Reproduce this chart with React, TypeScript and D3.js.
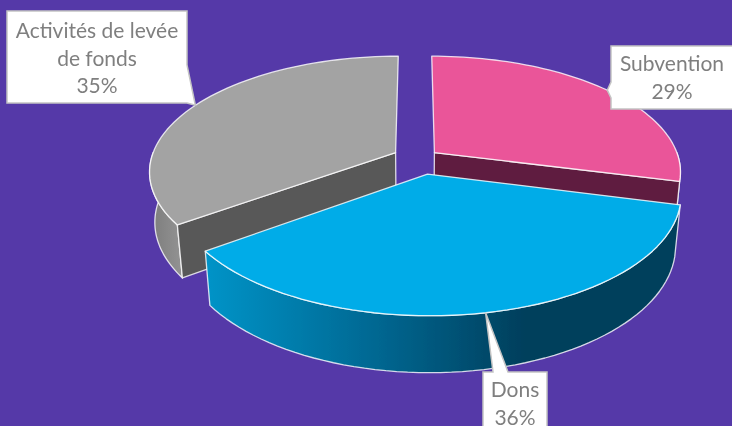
import React from 'react';
import * as d3 from 'd3';

const categories = ['Subvention', 'Dons', 'Activités de levée de fonds'];
const shares = [29, 36, 35];
const labelLines = [['Subvention'], ['Dons'], ['Activités de levée', 'de fonds']];

const topColors = ['#ea5499', '#00ace8', '#a3a3a3'];
const cutColors = ['#5f1f3f', '#004060', '#585858'];

// per slice layout (explosion in plane units, label box in px)
const offsets = [
  { a: 0.08, b: 0.066 },
  { a: 0.05, b: -0.121 },
  { a: -0.08, b: 0.066 },
];
const boxes = [
  { x: 611, y: 46, w: 122, h: 63, tail: 'left', t0: 82, t1: 98 },
  { x: 483, y: 372, w: 64, h: 70, tail: 'top', t0: 493, t1: 508 },
  { x: 7, y: 11, w: 180, h: 92, tail: 'right', t0: 65, t1: 103 },
];

const W = 732;
const H = 426;
const cx = 415;
const cy = 160;
const rx = 245;
const ry = 114;
const persp = 0.16;
const depth = 51;

type Slice = d3.PieArcDatum<number>;

const slices: Slice[] = d3.pie<number>().sort(null)(shares);

const project = (i: number, angle: number, radius: number, down: number): [number, number] => {
  const { a, b } = offsets[i];
  const X = a + radius * Math.sin(angle);
  const Y = b + radius * Math.cos(angle);
  const w = 1 / (1 + persp * Y + (down ? 0.02 : 0));
  return [cx + rx * X * w, cy + (-ry * Y + down * depth) * w];
};

const line = d3.line<[number, number]>();

const arcPoints = (i: number, from: number, to: number, down: number) =>
  d3.range(61).map(k => project(i, from + ((to - from) * k) / 60, 1, down));

const topPath = (s: Slice, i: number) =>
  line([project(i, 0, 0, 0), ...arcPoints(i, s.startAngle, s.endAngle, 0)]) + 'Z';

const wallPath = (i: number, from: number, to: number) =>
  line([...arcPoints(i, from, to, 0), ...arcPoints(i, to, from, 1)]) + 'Z';

// the cut face along one straight edge of a slice
const cutPath = (i: number, angle: number) =>
  line([
    project(i, 0, 0, 0),
    project(i, angle, 1, 0),
    project(i, angle, 1, 1),
    project(i, 0, 0, 1),
  ]) + 'Z';

const wallFills = ['#5f1f3f', 'url(#blueWall)', 'url(#greyWall)'];
const paintOrder = [2, 0, 1];
const strokeProps = { stroke: '#ffffff', strokeOpacity: 0.8, strokeWidth: 1.3, strokeLinejoin: 'round' as const };

const Callout: React.FC<{ i: number }> = ({ i }) => {
  const b = boxes[i];
  const s = slices[i];
  const tip = project(i, (s.startAngle + s.endAngle) / 2, 1, 0);
  const r = b.x + b.w;
  const bottom = b.y + b.h;
  let pts: [number, number][] = [];
  if (b.tail === 'left') {
    pts = [[b.x, b.y], [r, b.y], [r, bottom], [b.x, bottom], [b.x, b.t1], tip, [b.x, b.t0]];
  } else if (b.tail === 'top') {
    pts = [[b.x, b.y], [b.t0, b.y], tip, [b.t1, b.y], [r, b.y], [r, bottom], [b.x, bottom]];
  } else {
    pts = [[b.x, b.y], [r, b.y], [r, b.t0], tip, [r, b.t1], [r, bottom], [b.x, bottom]];
  }
  const text = [...labelLines[i], `${shares[i]}%`];
  const firstY = b.y + 20 + (i === 1 ? -2 : i === 0 ? -2 : 0);
  return (
    <g aria-label={categories[i]}>
      <path d={line(pts) + 'Z'} fill="#ffffff" stroke="#c4c4c4" strokeWidth={1.5} />
      {text.map((t, k) => (
        <text
          key={k}
          x={b.x + b.w / 2}
          y={firstY + 7 + k * 27.5}
          textAnchor="middle"
          fontFamily="Lato, 'Open Sans', sans-serif"
          fontSize={21}
          fill="#7f7f7f"
        >
          {t}
        </text>
      ))}
    </g>
  );
};

export default function App() {
  return (
    <svg
      width={W}
      height={H}
      viewBox={`0 0 ${W} ${H}`}
      style={{ position: 'absolute', left: 0, top: 0, display: 'block', background: '#5539a8' }}
    >
      <defs>
        <linearGradient id="blueWall" gradientUnits="userSpaceOnUse" x1={205} x2={525} y1={0} y2={0}>
          <stop offset="0%" stopColor="#0094c8" />
          <stop offset="55%" stopColor="#006690" />
          <stop offset="100%" stopColor="#003f5c" />
        </linearGradient>
        <linearGradient id="greyWall" gradientUnits="userSpaceOnUse" x1={150} x2={185} y1={0} y2={0}>
          <stop offset="0%" stopColor="#7c7c7c" />
          <stop offset="100%" stopColor="#959595" />
        </linearGradient>
        <filter id="soft" x="-5%" y="-5%" width="110%" height="110%">
          <feGaussianBlur stdDeviation={0.55} />
        </filter>
      </defs>
      <g filter="url(#soft)">
        {paintOrder.map(i => {
          const s = slices[i];
          // only the part of the outer wall that faces the viewer
          const from = Math.max(s.startAngle, Math.PI / 2);
          const to = Math.min(s.endAngle, (3 * Math.PI) / 2);
          return (
            <g key={categories[i]}>
              {from < to && <path d={wallPath(i, from, to)} fill={wallFills[i]} {...strokeProps} />}
              {i === 0 && <path d={cutPath(i, s.endAngle)} fill={cutColors[i]} {...strokeProps} />}
              {i === 2 && <path d={cutPath(i, s.startAngle)} fill={cutColors[i]} {...strokeProps} />}
              <path d={topPath(s, i)} fill={topColors[i]} {...strokeProps} />
            </g>
          );
        })}
        {slices.map((_, i) => (
          <Callout key={i} i={i} />
        ))}
      </g>
    </svg>
  );
}
